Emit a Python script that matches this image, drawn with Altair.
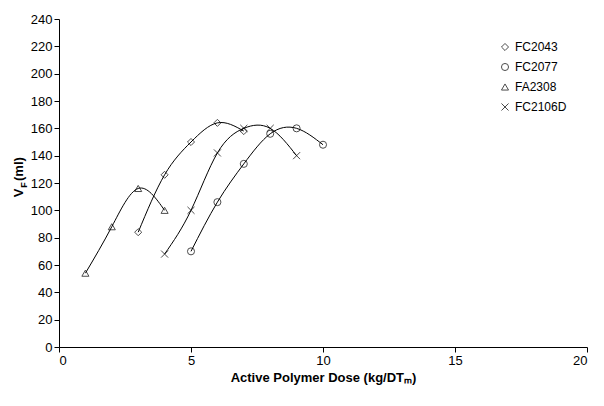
import pandas as pd
import altair as alt

SERIES = ["FC2043", "FC2077", "FA2308", "FC2106D"]
SHAPES = ["diamond", "circle", "triangle-up", "M-1,-1L1,1M-1,1L1,-1"]

FC2043_X = [3, 4, 5, 6, 7]
FC2043_Y = [84, 126, 150, 164, 158]
FC2077_X = [5, 6, 7, 8, 9, 10]
FC2077_Y = [70, 106, 134, 156, 160, 148]
FA2308_X = [1, 2, 3, 4]
FA2308_Y = [54, 88, 116, 100]
FC2106D_X = [4, 5, 6, 7, 8, 9]
FC2106D_Y = [68, 100, 142, 160, 160, 140]

rows = []
for name, xs, ys in [
    ("FC2043", FC2043_X, FC2043_Y),
    ("FC2077", FC2077_X, FC2077_Y),
    ("FA2308", FA2308_X, FA2308_Y),
    ("FC2106D", FC2106D_X, FC2106D_Y),
]:
    for x, y in zip(xs, ys):
        rows.append({"series": name, "dose": x, "vf": y})
df = pd.DataFrame(rows)

x = alt.X("dose:Q", scale=alt.Scale(domain=[0, 20]),
          axis=alt.Axis(values=[0, 5, 10, 15, 20], grid=False,
                        title="Active Polymer Dose (kg/DTₘ)"))
y = alt.Y("vf:Q", scale=alt.Scale(domain=[0, 240]),
          axis=alt.Axis(values=list(range(0, 241, 20)), grid=False, title=None))

lines = alt.Chart(df).mark_line(color="black", strokeWidth=1, interpolate="natural").encode(
    x=x, y=y, detail="series:N"
)
points = alt.Chart(df).mark_point(color="black", strokeWidth=1, size=50, filled=False).encode(
    x=x, y=y,
    shape=alt.Shape("series:N", scale=alt.Scale(domain=SERIES, range=SHAPES),
                    legend=alt.Legend(title=None, orient="none", legendX=440, legendY=22,
                                      labelFontSize=12, symbolSize=50, rowPadding=8,
                                      symbolStrokeColor="black", symbolStrokeWidth=1)),
)

# y-axis title with subscript F
ytitle_v = alt.Chart(pd.DataFrame({"t": ["V"]})).mark_text(
    angle=270, fontSize=13, fontWeight="bold", font="Liberation Sans", color="black"
).encode(text="t:N", x=alt.value(-40), y=alt.value(174))
ytitle_f = alt.Chart(pd.DataFrame({"t": ["F"]})).mark_text(
    angle=270, fontSize=9, fontWeight="bold", font="Liberation Sans", color="black"
).encode(text="t:N", x=alt.value(-35), y=alt.value(166))
ytitle_r = alt.Chart(pd.DataFrame({"t": [" (ml)"]})).mark_text(
    angle=270, fontSize=13, fontWeight="bold", font="Liberation Sans", color="black",
    align="left"
).encode(text="t:N", x=alt.value(-40), y=alt.value(162))

chart = (lines + points + ytitle_v + ytitle_f + ytitle_r).properties(
    width=528, height=328
).configure_view(stroke=None).configure_axis(
    labelFont="Liberation Sans", titleFont="Liberation Sans", labelFontSize=13,
    titleFontSize=13, labelColor="black", titleColor="black", domainColor="black",
    tickColor="black", labelFontWeight="normal"
).configure_legend(labelFont="Liberation Sans", labelColor="black")

chart.save("out.html", embed_options={"renderer": "svg", "actions": False})
